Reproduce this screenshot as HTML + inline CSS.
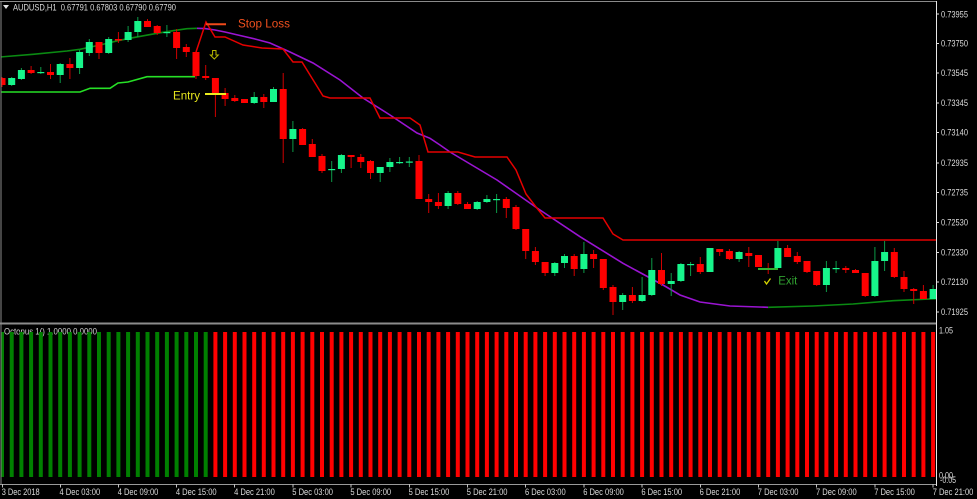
<!DOCTYPE html>
<html><head><meta charset="utf-8"><style>
html,body{margin:0;padding:0;background:#000;}
svg{display:block;}
text{font-family:"Liberation Sans",Arial,sans-serif;}
</style></head><body>
<svg width="977" height="499" viewBox="0 0 977 499" xmlns="http://www.w3.org/2000/svg">
<rect width="977" height="499" fill="#000"/>
<defs><clipPath id="mc"><rect x="1.5" y="2" width="934.5" height="320.5"/></clipPath>
<clipPath id="ic"><rect x="1.5" y="325" width="934.5" height="158"/></clipPath></defs>

<!-- borders -->
<line x1="0" y1="1.5" x2="937" y2="1.5" stroke="#8a8a8a" stroke-width="1"/>
<line x1="1" y1="1" x2="1" y2="484" stroke="#8a8a8a" stroke-width="1"/>
<rect x="0" y="322.5" width="937" height="2" fill="#8c8c8c"/>
<line x1="0" y1="484.5" x2="937" y2="484.5" stroke="#9a9a9a" stroke-width="1"/>
<line x1="936.5" y1="1" x2="936.5" y2="486" stroke="#e6e6e6" stroke-width="1"/>

<!-- title -->
<polygon points="3,5 9,5 6,9" fill="#e0e0e0"/>
<text x="13" y="10.5" font-size="9" fill="#dcdcdc" textLength="163" lengthAdjust="spacingAndGlyphs" style="white-space:pre">AUDUSD,H1  0.67791 0.67803 0.67790 0.67790</text>

<!-- price axis -->
<g stroke="#e0e0e0" stroke-width="1">
<line x1="936" y1="14" x2="939" y2="14"/><line x1="936" y1="43.5" x2="939" y2="43.5"/><line x1="936" y1="73" x2="939" y2="73"/><line x1="936" y1="103" x2="939" y2="103"/><line x1="936" y1="132.5" x2="939" y2="132.5"/><line x1="936" y1="163" x2="939" y2="163"/><line x1="936" y1="192.5" x2="939" y2="192.5"/><line x1="936" y1="222.5" x2="939" y2="222.5"/><line x1="936" y1="252.5" x2="939" y2="252.5"/><line x1="936" y1="282" x2="939" y2="282"/><line x1="936" y1="312" x2="939" y2="312"/>
</g>
<g font-size="9" fill="#dcdcdc">
<text x="941" y="17.3" textLength="27" lengthAdjust="spacingAndGlyphs">0.73955</text>
<text x="941" y="46.5" textLength="27" lengthAdjust="spacingAndGlyphs">0.73750</text>
<text x="941" y="76" textLength="27" lengthAdjust="spacingAndGlyphs">0.73545</text>
<text x="941" y="106" textLength="27" lengthAdjust="spacingAndGlyphs">0.73345</text>
<text x="941" y="135.7" textLength="27" lengthAdjust="spacingAndGlyphs">0.73140</text>
<text x="941" y="166" textLength="27" lengthAdjust="spacingAndGlyphs">0.72935</text>
<text x="941" y="195.7" textLength="27" lengthAdjust="spacingAndGlyphs">0.72735</text>
<text x="941" y="225.3" textLength="27" lengthAdjust="spacingAndGlyphs">0.72530</text>
<text x="941" y="255.3" textLength="27" lengthAdjust="spacingAndGlyphs">0.72330</text>
<text x="941" y="285" textLength="27" lengthAdjust="spacingAndGlyphs">0.72130</text>
<text x="941" y="315" textLength="27" lengthAdjust="spacingAndGlyphs">0.71925</text>
<text x="939" y="333.5" textLength="14" lengthAdjust="spacingAndGlyphs">1.05</text>
<text x="939" y="478.5" textLength="14" lengthAdjust="spacingAndGlyphs">0.00</text>
<text x="940" y="483" textLength="16" lengthAdjust="spacingAndGlyphs">-0.05</text>
</g>

<g clip-path="url(#mc)">
<!-- upper dark green MA -->
<polyline fill="none" stroke="#0a8a12" stroke-width="1.6" points="0,57 33,54.3 67,51 80,49.3 100,45 118,40.7 133,37.7 157,33.3 173,30.7 187,28.7 197,28.3"/>
<!-- purple -->
<polyline fill="none" stroke="#9a14d2" stroke-width="1.6" points="197,28.3 205,28.6 215,30 225,32 240,35.5 255,39 270,43 290,52 313,63 340,80 363,98 390,115 417,133 430,138.3 440,145 450,152 497,180 537,208 580,236.7 623,263.3 663,285 680,295 700,302 730,306 768,307.3"/>
<!-- lower green -->
<polyline fill="none" stroke="#0a8a12" stroke-width="1.6" points="768,307.3 813,306 853,304 893,300.7 937,298.7"/>
<!-- bright green support -->
<polyline fill="none" stroke="#26e026" stroke-width="1.6" points="0,92 80,92 90,88.3 110,88.3 118,83 128,82 147,76.7 195,76.7"/>
<!-- red stop line -->
<polyline fill="none" stroke="#e60000" stroke-width="1.5" points="196,52 206,22 215,37 225,37 243,45 262,48 283,49 293,62 302,62 315,83 323,96 330,98 370,98 380,118 410,118 420,125 428,152 458,152 475,157 507,157 516,170 526,194 536,207 545,218 603,218 613,234 623,240 937,240"/>

<!-- wicks green -->
<g stroke="#0c9a48" stroke-width="1">
<line x1="11.7" y1="77" x2="11.7" y2="86"/><line x1="21.4" y1="68" x2="21.4" y2="80"/><line x1="40.8" y1="67" x2="40.8" y2="74"/><line x1="60.2" y1="63" x2="60.2" y2="83"/><line x1="79.6" y1="50" x2="79.6" y2="74"/><line x1="89.3" y1="39" x2="89.3" y2="56"/><line x1="108.7" y1="37" x2="108.7" y2="54"/><line x1="128.1" y1="26" x2="128.1" y2="42"/><line x1="137.8" y1="17" x2="137.8" y2="37"/><line x1="166.9" y1="25" x2="166.9" y2="37"/><line x1="254.2" y1="92" x2="254.2" y2="104"/><line x1="273.5" y1="87" x2="273.5" y2="102"/><line x1="292.9" y1="121" x2="292.9" y2="152"/><line x1="331.7" y1="161" x2="331.7" y2="182"/><line x1="341.4" y1="154" x2="341.4" y2="173"/><line x1="380.2" y1="167" x2="380.2" y2="182"/><line x1="389.9" y1="158" x2="389.9" y2="172"/><line x1="399.6" y1="157" x2="399.6" y2="164"/><line x1="409.3" y1="157" x2="409.3" y2="167"/><line x1="448.1" y1="191" x2="448.1" y2="209"/><line x1="477.2" y1="201" x2="477.2" y2="210"/><line x1="486.9" y1="195" x2="486.9" y2="203"/><line x1="496.6" y1="194" x2="496.6" y2="213"/><line x1="554.8" y1="262" x2="554.8" y2="276"/><line x1="564.5" y1="254" x2="564.5" y2="268"/><line x1="583.9" y1="242" x2="583.9" y2="273"/><line x1="622.7" y1="293" x2="622.7" y2="310"/><line x1="642.1" y1="277" x2="642.1" y2="302"/><line x1="651.8" y1="258" x2="651.8" y2="296"/><line x1="671.2" y1="273" x2="671.2" y2="296"/><line x1="680.9" y1="263" x2="680.9" y2="282"/><line x1="690.6" y1="262" x2="690.6" y2="276"/><line x1="710" y1="248" x2="710" y2="272"/><line x1="739.1" y1="251" x2="739.1" y2="262"/><line x1="777.9" y1="241" x2="777.9" y2="268"/><line x1="826.4" y1="261" x2="826.4" y2="292"/><line x1="836.1" y1="261" x2="836.1" y2="273"/><line x1="874.9" y1="247" x2="874.9" y2="297"/><line x1="884.6" y1="241" x2="884.6" y2="271"/><line x1="933.1" y1="285" x2="933.1" y2="299"/>
</g>
<!-- wicks red -->
<g stroke="#d00000" stroke-width="1">
<line x1="2" y1="77" x2="2" y2="87"/><line x1="31.1" y1="66" x2="31.1" y2="74"/><line x1="50.5" y1="64" x2="50.5" y2="79"/><line x1="69.9" y1="58" x2="69.9" y2="79"/><line x1="99" y1="42" x2="99" y2="59"/><line x1="118.4" y1="32" x2="118.4" y2="43"/><line x1="147.5" y1="19" x2="147.5" y2="27"/><line x1="157.2" y1="25" x2="157.2" y2="35"/><line x1="176.6" y1="29" x2="176.6" y2="59"/><line x1="186.3" y1="44" x2="186.3" y2="57"/><line x1="196" y1="52" x2="196" y2="79"/><line x1="205.7" y1="65" x2="205.7" y2="80"/><line x1="215.4" y1="78" x2="215.4" y2="117"/><line x1="225.1" y1="88" x2="225.1" y2="106"/><line x1="234.8" y1="95" x2="234.8" y2="102"/><line x1="244.5" y1="99" x2="244.5" y2="103"/><line x1="263.8" y1="94" x2="263.8" y2="108"/><line x1="283.2" y1="73" x2="283.2" y2="163"/><line x1="302.6" y1="128" x2="302.6" y2="145"/><line x1="312.3" y1="139" x2="312.3" y2="157"/><line x1="322" y1="154" x2="322" y2="173"/><line x1="351.1" y1="155" x2="351.1" y2="168"/><line x1="360.8" y1="154" x2="360.8" y2="168"/><line x1="370.5" y1="160" x2="370.5" y2="179"/><line x1="419" y1="155" x2="419" y2="199"/><line x1="428.7" y1="194" x2="428.7" y2="213"/><line x1="438.4" y1="193" x2="438.4" y2="209"/><line x1="457.8" y1="191" x2="457.8" y2="205"/><line x1="467.5" y1="202" x2="467.5" y2="209"/><line x1="506.3" y1="197" x2="506.3" y2="218"/><line x1="516" y1="205" x2="516" y2="230"/><line x1="525.7" y1="229" x2="525.7" y2="259"/><line x1="535.4" y1="247" x2="535.4" y2="265"/><line x1="545.1" y1="262" x2="545.1" y2="276"/><line x1="574.2" y1="254" x2="574.2" y2="276"/><line x1="593.6" y1="250" x2="593.6" y2="268"/><line x1="603.3" y1="259" x2="603.3" y2="290"/><line x1="613" y1="285" x2="613" y2="315"/><line x1="632.4" y1="287" x2="632.4" y2="303"/><line x1="661.5" y1="253" x2="661.5" y2="286"/><line x1="700.3" y1="257" x2="700.3" y2="274"/><line x1="719.7" y1="249" x2="719.7" y2="256"/><line x1="729.4" y1="249" x2="729.4" y2="260"/><line x1="748.8" y1="247" x2="748.8" y2="267"/><line x1="758.5" y1="255" x2="758.5" y2="267"/><line x1="768.2" y1="263" x2="768.2" y2="274"/><line x1="787.6" y1="245" x2="787.6" y2="257"/><line x1="797.3" y1="252" x2="797.3" y2="264"/><line x1="807" y1="261" x2="807" y2="273"/><line x1="816.7" y1="271" x2="816.7" y2="286"/><line x1="845.8" y1="266" x2="845.8" y2="273"/><line x1="855.5" y1="269" x2="855.5" y2="273"/><line x1="865.2" y1="273" x2="865.2" y2="297"/><line x1="894.3" y1="248" x2="894.3" y2="278"/><line x1="904" y1="271" x2="904" y2="292"/><line x1="913.7" y1="288" x2="913.7" y2="304"/><line x1="923.4" y1="285" x2="923.4" y2="299"/>
</g>
<!-- bodies green -->
<g fill="#17f58b">
<rect x="8.2" y="78" width="7" height="7"/><rect x="17.9" y="70" width="7" height="9"/><rect x="37.3" y="72" width="7" height="1.2"/><rect x="56.7" y="64" width="7" height="11"/><rect x="76.1" y="52" width="7" height="16"/><rect x="85.8" y="42" width="7" height="11"/><rect x="105.2" y="39" width="7" height="14"/><rect x="124.6" y="32" width="7" height="8"/><rect x="134.3" y="21" width="7" height="11"/><rect x="163.4" y="32" width="7" height="1.2"/><rect x="250.7" y="97" width="7" height="6"/><rect x="270" y="89" width="7" height="13"/><rect x="289.4" y="129" width="7" height="10"/><rect x="328.2" y="169" width="7" height="1.2"/><rect x="337.9" y="155" width="7" height="14"/><rect x="376.7" y="167" width="7" height="6"/><rect x="386.4" y="162" width="7" height="5"/><rect x="396.1" y="162" width="7" height="1.2"/><rect x="405.8" y="161.5" width="7" height="1.2"/><rect x="444.6" y="193" width="7" height="13"/><rect x="473.7" y="202" width="7" height="7"/><rect x="483.4" y="199" width="7" height="3"/><rect x="493.1" y="199" width="7" height="1.2"/><rect x="551.3" y="263" width="7" height="10"/><rect x="561" y="256" width="7" height="7"/><rect x="580.4" y="254" width="7" height="15"/><rect x="619.2" y="295" width="7" height="7"/><rect x="638.6" y="295" width="7" height="6"/><rect x="648.3" y="270" width="7" height="25"/><rect x="667.7" y="281" width="7" height="3"/><rect x="677.4" y="264" width="7" height="17"/><rect x="687.1" y="264" width="7" height="1.2"/><rect x="706.5" y="248" width="7" height="24"/><rect x="735.6" y="252" width="7" height="7"/><rect x="774.4" y="248" width="7" height="20"/><rect x="822.9" y="268" width="7" height="17"/><rect x="832.6" y="268" width="7" height="1.2"/><rect x="871.4" y="261" width="7" height="35"/><rect x="881.1" y="252" width="7" height="9"/><rect x="929.6" y="289" width="7" height="10"/>
</g>
<!-- bodies red -->
<g fill="#ff0000">
<rect x="-1.5" y="78" width="7" height="7"/><rect x="27.6" y="70" width="7" height="3"/><rect x="47" y="72" width="7" height="3"/><rect x="66.4" y="64" width="7" height="4"/><rect x="95.5" y="42" width="7" height="11"/><rect x="114.9" y="39" width="7" height="1.5"/><rect x="144" y="21" width="7" height="6"/><rect x="153.7" y="26" width="7" height="7"/><rect x="173.1" y="32" width="7" height="16"/><rect x="182.8" y="47" width="7" height="5"/><rect x="192.5" y="52" width="7" height="24"/><rect x="202.2" y="76" width="7" height="2"/><rect x="211.9" y="78" width="7" height="15"/><rect x="221.6" y="93" width="7" height="6"/><rect x="231.3" y="98" width="7" height="3"/><rect x="241" y="99" width="7" height="4"/><rect x="260.3" y="97" width="7" height="5"/><rect x="279.7" y="89" width="7" height="50"/><rect x="299.1" y="129" width="7" height="16"/><rect x="308.8" y="144" width="7" height="13"/><rect x="318.5" y="156" width="7" height="15"/><rect x="347.6" y="155" width="7" height="2"/><rect x="357.3" y="157" width="7" height="5"/><rect x="367" y="161" width="7" height="12"/><rect x="415.5" y="161" width="7" height="38"/><rect x="425.2" y="199" width="7" height="3"/><rect x="434.9" y="202" width="7" height="4"/><rect x="454.3" y="193" width="7" height="11"/><rect x="464" y="204" width="7" height="5"/><rect x="502.8" y="199" width="7" height="9"/><rect x="512.5" y="207" width="7" height="22"/><rect x="522.2" y="229" width="7" height="22"/><rect x="531.9" y="251" width="7" height="11"/><rect x="541.6" y="262" width="7" height="11"/><rect x="570.7" y="256" width="7" height="13"/><rect x="590.1" y="254" width="7" height="5"/><rect x="599.8" y="259" width="7" height="29"/><rect x="609.5" y="287" width="7" height="15"/><rect x="628.9" y="295" width="7" height="6"/><rect x="658" y="270" width="7" height="14"/><rect x="696.8" y="264" width="7" height="8"/><rect x="716.2" y="249" width="7" height="3"/><rect x="725.9" y="251" width="7" height="8"/><rect x="745.3" y="253" width="7" height="3"/><rect x="755" y="255" width="7" height="12"/><rect x="764.7" y="268" width="7" height="1.5"/><rect x="784.1" y="248" width="7" height="9"/><rect x="793.8" y="256" width="7" height="6"/><rect x="803.5" y="261" width="7" height="11"/><rect x="813.2" y="271" width="7" height="14"/><rect x="842.3" y="268" width="7" height="2"/><rect x="852" y="270" width="7" height="3"/><rect x="861.7" y="273" width="7" height="23"/><rect x="890.8" y="252" width="7" height="25"/><rect x="900.5" y="277" width="7" height="12"/><rect x="910.2" y="289" width="7" height="2"/><rect x="919.9" y="291" width="7" height="8"/>
</g>

<!-- annotations -->
<line x1="206" y1="24.3" x2="226" y2="24.3" stroke="#f04a1a" stroke-width="2"/>
<text x="238" y="27.5" font-size="12" fill="#f0501e" textLength="52" lengthAdjust="spacingAndGlyphs">Stop Loss</text>
<line x1="205" y1="94" x2="226" y2="94" stroke="#ecec1e" stroke-width="2"/>
<text x="173" y="99.5" font-size="12" fill="#e6e61e" textLength="27" lengthAdjust="spacingAndGlyphs">Entry</text>
<path d="M212.6,50.5 H216 V55 H218.3 L214.3,59 L210.3,55 H212.6 Z" fill="none" stroke="#b8b800" stroke-width="1"/>
<line x1="758" y1="269" x2="778" y2="269" stroke="#30b030" stroke-width="2"/>
<text x="778.3" y="284.5" font-size="12" fill="#30a030" textLength="19" lengthAdjust="spacingAndGlyphs">Exit</text>
<path d="M764.5,281 L766.5,284 L770.5,278.5" fill="none" stroke="#d8d800" stroke-width="1.3"/>
</g>

<!-- indicator -->
<text x="4" y="334.5" font-size="9" fill="#d0d0d0" textLength="93" lengthAdjust="spacingAndGlyphs">Octopus 1() 1.0000 0.0000</text>
<g clip-path="url(#ic)">
<g fill="#008000">
<rect x="0" y="332" width="4" height="145"/><rect x="9.7" y="332" width="4" height="145"/><rect x="19.4" y="332" width="4" height="145"/><rect x="29.1" y="332" width="4" height="145"/><rect x="38.8" y="332" width="4" height="145"/><rect x="48.5" y="332" width="4" height="145"/><rect x="58.2" y="332" width="4" height="145"/><rect x="67.9" y="332" width="4" height="145"/><rect x="77.6" y="332" width="4" height="145"/><rect x="87.3" y="332" width="4" height="145"/><rect x="97" y="332" width="4" height="145"/><rect x="106.7" y="332" width="4" height="145"/><rect x="116.4" y="332" width="4" height="145"/><rect x="126.1" y="332" width="4" height="145"/><rect x="135.8" y="332" width="4" height="145"/><rect x="145.5" y="332" width="4" height="145"/><rect x="155.2" y="332" width="4" height="145"/><rect x="164.9" y="332" width="4" height="145"/><rect x="174.6" y="332" width="4" height="145"/><rect x="184.3" y="332" width="4" height="145"/><rect x="194" y="332" width="4" height="145"/><rect x="203.7" y="332" width="4" height="145"/>
</g>
<g fill="#ff0000">
<rect x="213.4" y="332" width="4" height="145"/><rect x="223.1" y="332" width="4" height="145"/><rect x="232.8" y="332" width="4" height="145"/><rect x="242.5" y="332" width="4" height="145"/><rect x="252.2" y="332" width="4" height="145"/><rect x="261.8" y="332" width="4" height="145"/><rect x="271.5" y="332" width="4" height="145"/><rect x="281.2" y="332" width="4" height="145"/><rect x="290.9" y="332" width="4" height="145"/><rect x="300.6" y="332" width="4" height="145"/><rect x="310.3" y="332" width="4" height="145"/><rect x="320" y="332" width="4" height="145"/><rect x="329.7" y="332" width="4" height="145"/><rect x="339.4" y="332" width="4" height="145"/><rect x="349.1" y="332" width="4" height="145"/><rect x="358.8" y="332" width="4" height="145"/><rect x="368.5" y="332" width="4" height="145"/><rect x="378.2" y="332" width="4" height="145"/><rect x="387.9" y="332" width="4" height="145"/><rect x="397.6" y="332" width="4" height="145"/><rect x="407.3" y="332" width="4" height="145"/><rect x="417" y="332" width="4" height="145"/><rect x="426.7" y="332" width="4" height="145"/><rect x="436.4" y="332" width="4" height="145"/><rect x="446.1" y="332" width="4" height="145"/><rect x="455.8" y="332" width="4" height="145"/><rect x="465.5" y="332" width="4" height="145"/><rect x="475.2" y="332" width="4" height="145"/><rect x="484.9" y="332" width="4" height="145"/><rect x="494.6" y="332" width="4" height="145"/><rect x="504.3" y="332" width="4" height="145"/><rect x="514" y="332" width="4" height="145"/><rect x="523.7" y="332" width="4" height="145"/><rect x="533.4" y="332" width="4" height="145"/><rect x="543.1" y="332" width="4" height="145"/><rect x="552.8" y="332" width="4" height="145"/><rect x="562.5" y="332" width="4" height="145"/><rect x="572.2" y="332" width="4" height="145"/><rect x="581.9" y="332" width="4" height="145"/><rect x="591.6" y="332" width="4" height="145"/><rect x="601.3" y="332" width="4" height="145"/><rect x="611" y="332" width="4" height="145"/><rect x="620.7" y="332" width="4" height="145"/><rect x="630.4" y="332" width="4" height="145"/><rect x="640.1" y="332" width="4" height="145"/><rect x="649.8" y="332" width="4" height="145"/><rect x="659.5" y="332" width="4" height="145"/><rect x="669.2" y="332" width="4" height="145"/><rect x="678.9" y="332" width="4" height="145"/><rect x="688.6" y="332" width="4" height="145"/><rect x="698.3" y="332" width="4" height="145"/><rect x="708" y="332" width="4" height="145"/><rect x="717.7" y="332" width="4" height="145"/><rect x="727.4" y="332" width="4" height="145"/><rect x="737.1" y="332" width="4" height="145"/><rect x="746.8" y="332" width="4" height="145"/><rect x="756.5" y="332" width="4" height="145"/><rect x="766.2" y="332" width="4" height="145"/><rect x="775.9" y="332" width="4" height="145"/><rect x="785.6" y="332" width="4" height="145"/><rect x="795.3" y="332" width="4" height="145"/><rect x="805" y="332" width="4" height="145"/><rect x="814.7" y="332" width="4" height="145"/><rect x="824.4" y="332" width="4" height="145"/><rect x="834.1" y="332" width="4" height="145"/><rect x="843.8" y="332" width="4" height="145"/><rect x="853.5" y="332" width="4" height="145"/><rect x="863.2" y="332" width="4" height="145"/><rect x="872.9" y="332" width="4" height="145"/><rect x="882.6" y="332" width="4" height="145"/><rect x="892.3" y="332" width="4" height="145"/><rect x="902" y="332" width="4" height="145"/><rect x="911.7" y="332" width="4" height="145"/><rect x="921.4" y="332" width="4" height="145"/><rect x="931.1" y="332" width="4" height="145"/>
</g>
</g>

<!-- time axis -->
<g stroke="#c0c0c0" stroke-width="1">
<line x1="2.5" y1="484" x2="2.5" y2="487.5"/><line x1="60.5" y1="484" x2="60.5" y2="487.5"/><line x1="118.5" y1="484" x2="118.5" y2="487.5"/><line x1="176.5" y1="484" x2="176.5" y2="487.5"/><line x1="234.5" y1="484" x2="234.5" y2="487.5"/><line x1="293" y1="484" x2="293" y2="487.5"/><line x1="351" y1="484" x2="351" y2="487.5"/><line x1="409.5" y1="484" x2="409.5" y2="487.5"/><line x1="467.5" y1="484" x2="467.5" y2="487.5"/><line x1="525.5" y1="484" x2="525.5" y2="487.5"/><line x1="584" y1="484" x2="584" y2="487.5"/><line x1="642" y1="484" x2="642" y2="487.5"/><line x1="700.5" y1="484" x2="700.5" y2="487.5"/><line x1="758.5" y1="484" x2="758.5" y2="487.5"/><line x1="816.5" y1="484" x2="816.5" y2="487.5"/><line x1="875" y1="484" x2="875" y2="487.5"/><line x1="933" y1="484" x2="933" y2="487.5"/>
</g>
<g font-size="9" fill="#dcdcdc">
<text x="1.7" y="495" textLength="38" lengthAdjust="spacingAndGlyphs">3 Dec 2018</text>
<text x="59.5" y="495" textLength="40.7" lengthAdjust="spacingAndGlyphs">4 Dec 03:00</text>
<text x="117.7" y="495" textLength="40.7" lengthAdjust="spacingAndGlyphs">4 Dec 09:00</text>
<text x="175.9" y="495" textLength="40.7" lengthAdjust="spacingAndGlyphs">4 Dec 15:00</text>
<text x="234.1" y="495" textLength="40.7" lengthAdjust="spacingAndGlyphs">4 Dec 21:00</text>
<text x="292.3" y="495" textLength="40.7" lengthAdjust="spacingAndGlyphs">5 Dec 03:00</text>
<text x="350.4" y="495" textLength="40.7" lengthAdjust="spacingAndGlyphs">5 Dec 09:00</text>
<text x="408.6" y="495" textLength="40.7" lengthAdjust="spacingAndGlyphs">5 Dec 15:00</text>
<text x="466.8" y="495" textLength="40.7" lengthAdjust="spacingAndGlyphs">5 Dec 21:00</text>
<text x="525" y="495" textLength="40.7" lengthAdjust="spacingAndGlyphs">6 Dec 03:00</text>
<text x="583.2" y="495" textLength="40.7" lengthAdjust="spacingAndGlyphs">6 Dec 09:00</text>
<text x="641.4" y="495" textLength="40.7" lengthAdjust="spacingAndGlyphs">6 Dec 15:00</text>
<text x="699.6" y="495" textLength="40.7" lengthAdjust="spacingAndGlyphs">6 Dec 21:00</text>
<text x="757.8" y="495" textLength="40.7" lengthAdjust="spacingAndGlyphs">7 Dec 03:00</text>
<text x="816" y="495" textLength="40.7" lengthAdjust="spacingAndGlyphs">7 Dec 09:00</text>
<text x="874.2" y="495" textLength="40.7" lengthAdjust="spacingAndGlyphs">7 Dec 15:00</text>
<text x="932.7" y="495" textLength="40.7" lengthAdjust="spacingAndGlyphs">7 Dec 21:00</text>
</g>
</svg>
</body></html>
